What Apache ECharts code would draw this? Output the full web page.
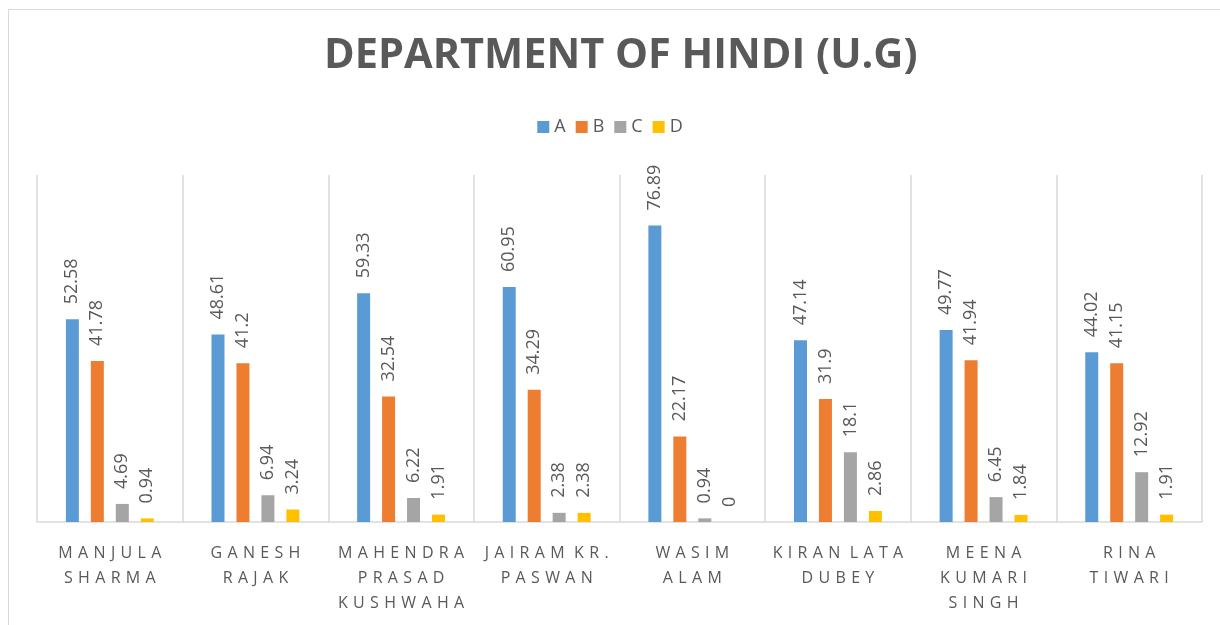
<!DOCTYPE html>
<html>
<head>
<meta charset="utf-8">
<script src="https://cdn.jsdelivr.net/npm/echarts@6/dist/echarts.min.js"></script>
<style>
body { margin: 0; background: #fff; }
#frame { position: absolute; left: 8px; top: 9px; width: 1300px; height: 700px; border-left: 1px solid #d9d9d9; border-top: 1px solid #d9d9d9; }
#main { position: absolute; left: 0; top: 0; width: 1220px; height: 625px; }
</style>
</head>
<body>
<div id="frame"></div>
<div id="main"></div>
<script>
// teacher names (x axis)
var teachers = ['MANJULA\nSHARMA', 'GANESH\nRAJAK', 'MAHENDRA\nPRASAD\nKUSHWAHA', 'JAIRAM KR.\nPASWAN',
	'WASIM\nALAM', 'KIRAN LATA\nDUBEY', 'MEENA\nKUMARI\nSINGH', 'RINA\nTIWARI'];
var gradeA = [52.58, 48.61, 59.33, 60.95, 76.89, 47.14, 49.77, 44.02];
var gradeB = [41.78, 41.2, 32.54, 34.29, 22.17, 31.9, 41.94, 41.15];
var gradeC = [4.69, 6.94, 6.22, 2.38, 0.94, 18.1, 6.45, 12.92];
var gradeD = [0.94, 3.24, 1.91, 2.38, 0, 2.86, 1.84, 1.91];

var textGray = '#595959';
var lineGray = '#d9d9d9';

// wide letter spacing on the names, like the office chart
function spaced(s) {
	return s.split('\n').map(function (line) {
		return line.split(' ').map(function (w) { return w.split('').join('\u2004'); }).join('\u2004 ');
	}).join('\n');
}

function bar(name, data, color) {
	return {
		name: name,
		type: 'bar',
		data: data,
		barWidth: 13,
		barGap: '92%',
		itemStyle: { color: color },
		label: {
			show: true,
			position: 'top',
			rotate: 90,
			align: 'left',
			verticalAlign: 'middle',
			distance: 15,
			color: textGray,
			fontSize: 18,
			fontFamily: 'Open Sans'
		}
	};
}

var chart = echarts.init(document.getElementById('main'));
var option = {
	animation: false,
	title: {
		text: 'DEPARTMENT OF HINDI (U.G)',
		left: 319,
		top: 30,
		textStyle: { color: textGray, fontSize: 41.5, fontWeight: 'bold', fontFamily: 'Open Sans' }
	},
	legend: {
		data: ['A', 'B', 'C', 'D'],
		top: 113,
		left: 'center',
		icon: 'rect',
		itemWidth: 12,
		itemHeight: 12,
		itemGap: 10,
		textStyle: { color: textGray, fontSize: 18, fontFamily: 'Open Sans' }
	},
	grid: { left: 37, right: 18, top: 175, bottom: 103 },
	xAxis: {
		type: 'category',
		data: teachers,
		axisLine: { lineStyle: { color: lineGray, width: 1.5 } },
		axisTick: { show: false },
		splitLine: { show: true, lineStyle: { color: lineGray, width: 1.5 } },
		axisLabel: {
			interval: 0,
			margin: 19,
			color: textGray,
			fontSize: 16,
			lineHeight: 25,
			fontFamily: 'Open Sans',
			formatter: function (v) { return spaced(v); }
		}
	},
	yAxis: {
		type: 'value',
		min: 0,
		max: 90,
		show: false,
		splitLine: { show: false }
	},
	series: [
		bar('A', gradeA, '#5B9BD5'),
		bar('B', gradeB, '#ED7D31'),
		bar('C', gradeC, '#A5A5A5'),
		bar('D', gradeD, '#FFC000')
	]
};
chart.setOption(option);
</script>
</body>
</html>
